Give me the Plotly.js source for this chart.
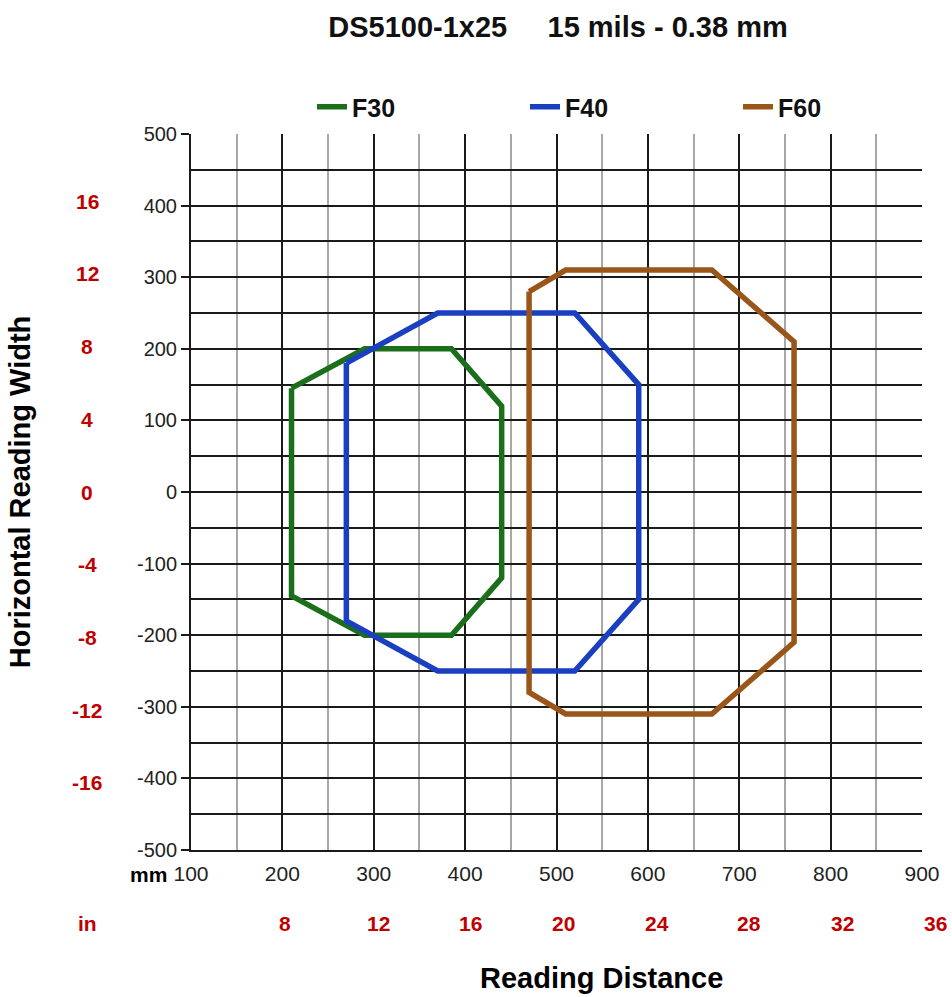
<!DOCTYPE html>
<html>
<head>
<meta charset="utf-8">
<script src="https://cdn.plot.ly/plotly-3.0.1.min.js"></script>
<style>html,body{margin:0;padding:0;background:#fff}#chart{width:952px;height:997px}</style>
</head>
<body>
<div id="chart"></div>
<script>
// Reading field data (mm)
const seriesNames = ["F30", "F40", "F60"];
const f30X = [210, 290, 385, 440, 440, 385, 290, 210, 210];
const f30Y = [145, 200, 200, 120, -120, -200, -200, -145, 145];
const f40X = [270, 370, 520, 590, 590, 520, 370, 270, 270];
const f40Y = [180, 250, 250, 150, -150, -250, -250, -180, 180];
const f60X = [470, 510, 670, 760, 760, 670, 510, 470, 470];
const f60Y = [280, 310, 310, 210, -210, -310, -310, -280, 280];
const seriesColors = ["#1b6f1b", "#1a3fc0", "#9a5518"];

// Axis tick labels
const xTicksMm = [100, 200, 300, 400, 500, 600, 700, 800, 900];
const yTicksMm = [500, 400, 300, 200, 100, 0, -100, -200, -300, -400, -500];
const xTicksIn = [8, 12, 16, 20, 24, 28, 32, 36];
const yTicksIn = [16, 12, 8, 4, 0, -4, -8, -12, -16];
const MM_PER_IN = 25.4;
const X_RANGE = [100, 900];
const Y_RANGE = [-500, 500];

const xs = [f30X, f40X, f60X];
const ys = [f30Y, f40Y, f60Y];
const traces = seriesNames.map((n, i) => ({
  type: "scatter", mode: "lines", name: n, x: xs[i], y: ys[i],
  line: {color: seriesColors[i], width: 5.5, shape: "linear"},
  hoverinfo: "x+y+name"
}));

const L = 191, R = 30, T = 134, B = 147, W = 952, H = 997;
const pw = W - L - R, ph = H - T - B;
const px2x = p => (p - L) / pw;
const py2y = p => (H - B - p) / ph;
const red = "#c00000";
const redFont = {family: "Arial, Liberation Sans", size: 21, color: red, weight: "bold"};

const annotations = [];
// inch labels along the bottom (paper x derived from the mm scale)
xTicksIn.forEach(v => annotations.push({
  x: (v * MM_PER_IN - X_RANGE[0]) / (X_RANGE[1] - X_RANGE[0]), xref: "paper",
  y: py2y(923), yref: "paper", xanchor: "center", yanchor: "middle",
  text: String(v), showarrow: false, font: redFont
}));
// inch labels along the left side
yTicksIn.forEach(v => annotations.push({
  x: px2x(87), xref: "paper", y: v * MM_PER_IN, yref: "y",
  xanchor: "center", yanchor: "middle",
  text: String(v), showarrow: false, font: redFont
}));
annotations.push({x: px2x(88), xref: "paper", y: py2y(923), yref: "paper",
  xanchor: "center", yanchor: "middle", text: "in", showarrow: false, font: redFont});
annotations.push({x: px2x(148), xref: "paper", y: py2y(874), yref: "paper",
  xanchor: "center", yanchor: "middle",
  text: "mm", showarrow: false, font: {family: "Arial, Liberation Sans", size: 21, color: "#000", weight: "bold"}});
annotations.push({x: px2x(601), xref: "paper", y: py2y(978), yref: "paper",
  xanchor: "center", yanchor: "middle",
  text: "Reading Distance", showarrow: false, font: {family: "Arial, Liberation Sans", size: 29, color: "#000", weight: "bold"}});

const layout = {
  width: W, height: H,
  margin: {l: L, r: R, t: T, b: B, autoexpand: false},
  paper_bgcolor: "#fff", plot_bgcolor: "#fff",
  title: {text: "DS5100-1x25&nbsp;&nbsp;&nbsp;&nbsp;&nbsp;15 mils - 0.38 mm", x: 558 / W, xref: "container", xanchor: "center",
    y: 1 - 27 / H, yref: "container", yanchor: "middle",
    font: {family: "Arial, Liberation Sans", size: 29, color: "#111", weight: "bold"}},
  showlegend: true,
  legend: {orientation: "h", x: px2x(312), xanchor: "left", y: py2y(107), yanchor: "middle",
    entrywidth: 168, entrywidthmode: "pixels", tracegroupgap: 0,
    font: {family: "Arial, Liberation Sans", size: 25, color: "#111", weight: "bold"}, bgcolor: "rgba(0,0,0,0)"},
  xaxis: {range: X_RANGE, tickvals: xTicksMm, ticktext: xTicksMm.map(String),
    showgrid: true, gridcolor: "#1a1a1a", gridwidth: 2,
    minor: {dtick: 50, showgrid: true, gridcolor: "#a8a8a8", gridwidth: 2},
    showline: true, linecolor: "#1a1a1a", linewidth: 2, mirror: false,
    ticks: "", zeroline: false, fixedrange: true, ticklabelstandoff: 4,
    tickfont: {family: "Arial, Liberation Sans", size: 21, color: "#222"}},
  yaxis: {range: Y_RANGE, tickvals: yTicksMm, ticktext: yTicksMm.map(String),
    showgrid: true, gridcolor: "#1a1a1a", gridwidth: 2,
    minor: {dtick: 50, showgrid: true, gridcolor: "#1a1a1a", gridwidth: 2},
    showline: true, linecolor: "#1a1a1a", linewidth: 2,
    ticks: "outside", ticklen: 8, tickcolor: "#1a1a1a", tickwidth: 2, zeroline: false, fixedrange: true,
    tickfont: {family: "Arial, Liberation Sans", size: 20, color: "#222"},
    title: {text: "Horizontal Reading Width", standoff: 98,
      font: {family: "Arial, Liberation Sans", size: 29, color: "#000", weight: "bold"}}},
  annotations: annotations
};

Plotly.newPlot("chart", traces, layout, {displayModeBar: false, staticPlot: true});
</script>
</body>
</html>
